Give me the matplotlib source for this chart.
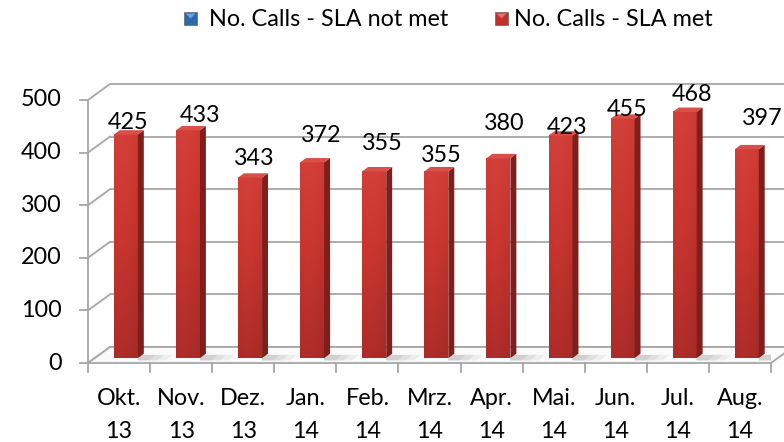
import numpy as np
import matplotlib
matplotlib.use("Agg")
import matplotlib.pyplot as plt
from matplotlib.patches import Polygon, Rectangle
from matplotlib.colors import LinearSegmentedColormap

# ---- data -------------------------------------------------------------
months = ["Okt.", "Nov.", "Dez.", "Jan.", "Feb.", "Mrz.", "Apr.", "Mai.", "Jun.", "Jul.", "Aug."]
years = ["13", "13", "13", "14", "14", "14", "14", "14", "14", "14", "14"]
sla_not_met = [0, 0, 0, 0, 0, 0, 0, 0, 0, 0, 0]
sla_met = [425, 433, 343, 372, 355, 355, 380, 423, 455, 468, 397]
y_ticks = [0, 100, 200, 300, 400, 500]
series_names = ["No. Calls - SLA not met", "No. Calls - SLA met"]

FONT = "Lato"
FS = 16.8

W, H = 784, 442
fig = plt.figure(figsize=(W / 100, H / 100), dpi=100)

# front plane of the 3-D box, in pixels
left, right, base, top = 88, 771, 363, 100
ax = fig.add_axes([left / W, (H - base) / H, (right - left) / W, (base - top) / H])
n = len(months)
ax.set_xlim(-0.5, n - 0.5)
ax.set_ylim(0, y_ticks[-1])
ax.axis("off")

px_x = (right - left) / n            # pixels per category
px_y = (base - top) / y_ticks[-1]    # pixels per value unit
DX = 22 / px_x                       # full depth of the box, data units
DY = 16 / px_y

grid_c = "#a6a6a6"
lw = 1.3

# back wall gridlines and side-wall diagonals
for v in y_ticks:
    ax.plot([-0.5 + DX, n - 0.5 + DX], [v + DY, v + DY], color=grid_c, lw=lw,
            clip_on=False, zorder=1, solid_capstyle="butt")
    ax.plot([-0.5, -0.5 + DX], [v, v + DY], color=grid_c, lw=lw, clip_on=False, zorder=1)
    ax.plot([-0.5 - 8 / px_x, -0.5], [v, v], color=grid_c, lw=lw, clip_on=False, zorder=1)

# front vertical axis
ax.plot([-0.5, -0.5], [0, y_ticks[-1]], color=grid_c, lw=lw, clip_on=False, zorder=1)

# floor
floor = Polygon([(-0.5, 0), (n - 0.5, 0), (n - 0.5 + DX, DY), (-0.5 + DX, DY)],
                closed=True, facecolor="#fafafa", edgecolor=grid_c, lw=lw,
                clip_on=False, zorder=2)
ax.add_patch(floor)

# category ticks along the front edge
for k in range(n + 1):
    ax.plot([k - 0.5, k - 0.5], [0, -9 / px_y], color=grid_c, lw=lw, clip_on=False, zorder=2)

# bars
f0 = 0.31          # depth position of the bar's front face
bd = 0.27          # bar depth as a fraction of the box depth
bw = 24 / px_x     # bar width
front_cmap = LinearSegmentedColormap.from_list("front", ["#a92b28", "#c9362f", "#d8453e"])
grad = np.linspace(0, 1, 256).reshape(-1, 1)
hgrad = np.array([[0.95, 1.0, 1.0, 0.97, 0.9, 0.85]])

for i, v in enumerate(sla_met):
    x0 = i + f0 * DX - bw / 2
    y0 = f0 * DY
    # soft shadow on the floor
    for s, a in [(1.0, 0.10), (0.7, 0.12), (0.4, 0.15)]:
        sh = Polygon([(x0 + bw, y0 - 0.15 * DY), (x0 + bw + s * 28 / px_x, y0 - 0.15 * DY),
                      (x0 + bw + s * 28 / px_x + 0.3 * DX, y0 + 0.2 * DY),
                      (x0 + bw, y0 + 0.2 * DY)],
                     closed=True, facecolor="#808080", alpha=a, lw=0, zorder=3)
        ax.add_patch(sh)
    # front face with vertical gradient
    img = grad * 0.75 + (hgrad - 0.9) * 0.8
    ax.imshow(img, cmap=front_cmap, vmin=0, vmax=1, origin="lower",
              extent=[x0, x0 + bw, y0, y0 + v], aspect="auto", zorder=4,
              interpolation="bilinear")
    # right side face
    side = Polygon([(x0 + bw, y0), (x0 + bw + bd * DX, y0 + bd * DY),
                    (x0 + bw + bd * DX, y0 + v + bd * DY), (x0 + bw, y0 + v)],
                   closed=True, facecolor="#7e1f1c", edgecolor="none", zorder=4)
    ax.add_patch(side)
    # top face
    topf = Polygon([(x0, y0 + v), (x0 + bw, y0 + v), (x0 + bw + bd * DX, y0 + v + bd * DY),
                    (x0 + bd * DX, y0 + v + bd * DY)],
                   closed=True, facecolor="#d9504a", edgecolor="none", zorder=4)
    ax.add_patch(topf)

ax.set_xlim(-0.5, n - 0.5)
ax.set_ylim(0, y_ticks[-1])

# value labels, nudged the way the 3-D renderer placed them (pixels)
label_nudge = [(2, 12), (12, 15), (4, 19), (9, 27), (8, 28), (5, 16),
               (6, 35), (7, 8), (5, 9), (7, 17), (15, 31)]
for i, v in enumerate(sla_met):
    dx, dy = label_nudge[i]
    ax.annotate(str(v), xy=(i + f0 * DX, f0 * DY + v), xytext=(dx, dy),
                textcoords="offset pixels", ha="center", va="center",
                fontsize=FS, family=FONT, color="black", zorder=6,
                annotation_clip=False)

# y tick labels
for v in y_ticks:
    ax.annotate(str(v), xy=(-0.5, v), xytext=(-26, 0), textcoords="offset pixels",
                ha="right", va="center", fontsize=FS, family=FONT, annotation_clip=False)

# category labels
for i, (m, yr) in enumerate(zip(months, years)):
    ax.annotate(f"{m}\n{yr}", xy=(i, 0), xytext=(0, -52), textcoords="offset pixels",
                ha="center", va="center", fontsize=FS, family=FONT,
                linespacing=1.68, annotation_clip=False)

# legend
def legend_marker(x, y, base_c, light_c, s=13):
    fx, fy = x / W, 1 - y / H
    fig.add_artist(Rectangle((fx, fy - s / H), s / W, s / H, transform=fig.transFigure,
                             facecolor=base_c, edgecolor="#555555", lw=0.4))
    fig.add_artist(Polygon([(fx + 1.5 / W, fy - 1.5 / H), (fx + (s - 1.5) / W, fy - 1.5 / H),
                            (fx + s / 2 / W, fy - (s / 2) / H)], closed=True,
                           transform=fig.transFigure, facecolor=light_c, lw=0))

legend_marker(184, 12, "#2f67ab", "#6aa3e0")
fig.text(209 / W, 1 - 19 / H, series_names[0], ha="left", va="center",
         fontsize=FS, family=FONT)
legend_marker(495, 12, "#c0312c", "#e8716b")
fig.text(514 / W, 1 - 19 / H, series_names[1], ha="left", va="center",
         fontsize=FS, family=FONT)

fig.savefig("out.png", dpi=100, facecolor="white")
